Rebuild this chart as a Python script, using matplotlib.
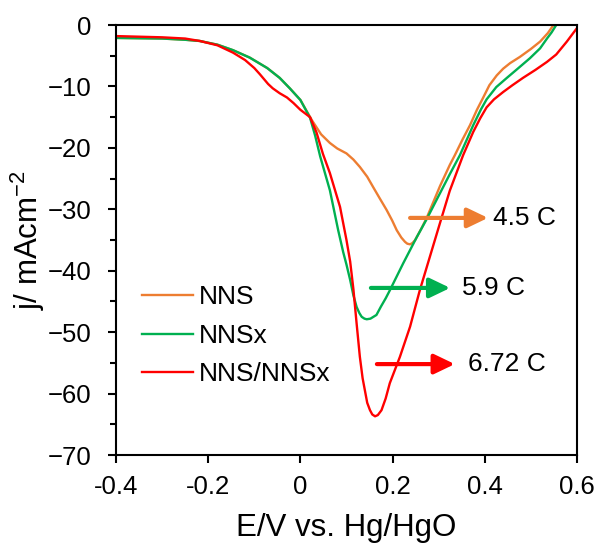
import matplotlib
matplotlib.use('Agg')
import matplotlib.pyplot as plt
from matplotlib.ticker import MultipleLocator

plt.rcParams['font.family'] = ['Liberation Sans', 'DejaVu Sans']
plt.rcParams['mathtext.default'] = 'regular'

# Datos
nns_x = [-0.4, -0.3, -0.25, -0.218, -0.18, -0.146, -0.11, -0.072, -0.045, -0.023, 0.0,
         0.025, 0.045, 0.064, 0.08, 0.1, 0.115, 0.129, 0.145, 0.158, 0.172, 0.187,
         0.199, 0.209, 0.219, 0.227, 0.232, 0.238, 0.243, 0.249, 0.262, 0.274, 0.303,
         0.324, 0.335, 0.352, 0.368, 0.383, 0.396, 0.41, 0.426, 0.44, 0.455, 0.476,
         0.5, 0.52, 0.537, 0.549]
nns_y = [-2.1, -2.2, -2.4, -2.6, -3.2, -4.1, -5.3, -7.0, -8.6, -10.3, -12.2,
         -15.5, -17.8, -19.2, -20.1, -20.9, -21.9, -23.1, -24.7, -26.4, -28.2, -30.1,
         -31.8, -33.4, -34.6, -35.3, -35.6, -35.7, -35.5, -35.0, -33.2, -31.4, -26.2,
         -22.8, -21.2, -18.6, -16.3, -13.8, -11.9, -9.8, -8.2, -7.1, -6.2, -5.2,
         -3.9, -2.7, -1.3, 0.0]

nnsx_x = [-0.4, -0.3, -0.25, -0.218, -0.18, -0.146, -0.11, -0.072, -0.045, -0.023, 0.0,
          0.021, 0.032, 0.043, 0.064, 0.082, 0.093, 0.1, 0.108, 0.115, 0.122, 0.128,
          0.133, 0.139, 0.144, 0.152, 0.165, 0.175, 0.185, 0.194, 0.223, 0.252, 0.274,
          0.3, 0.324, 0.346, 0.375, 0.392, 0.404, 0.425, 0.448, 0.47, 0.498, 0.52,
          0.535, 0.545, 0.555]
nnsx_y = [-2.1, -2.2, -2.4, -2.6, -3.2, -4.1, -5.3, -7.0, -8.6, -10.3, -12.2,
          -15.1, -18.0, -21.4, -26.9, -33.4, -37.0, -39.0, -41.5, -44.0, -45.9, -46.9,
          -47.5, -47.8, -47.9, -47.8, -47.2, -45.8, -44.5, -43.2, -38.8, -34.6, -31.6,
          -27.8, -24.3, -21.2, -16.3, -13.7, -12.1, -10.1, -8.6, -7.2, -5.4, -3.8,
          -2.2, -1.2, 0.0]

mix_x = [-0.4, -0.3, -0.25, -0.218, -0.18, -0.146, -0.12, -0.1, -0.088, -0.07, -0.06,
         -0.045, -0.029, -0.015, 0.0, 0.021, 0.035, 0.049, 0.064, 0.086, 0.1, 0.108,
         0.115, 0.122, 0.129, 0.135, 0.14, 0.145, 0.151, 0.156, 0.162, 0.168, 0.176,
         0.185, 0.194, 0.216, 0.238, 0.259, 0.281, 0.303, 0.324, 0.353, 0.375, 0.39,
         0.404, 0.42, 0.44, 0.46, 0.483, 0.51, 0.535, 0.555, 0.578, 0.6]
mix_y = [-1.8, -2.0, -2.2, -2.6, -3.3, -4.5, -5.7, -7.0, -8.0, -9.6, -10.3,
         -11.1, -11.8, -12.7, -13.8, -15.0, -17.5, -21.0, -24.1, -29.6, -35.0, -38.5,
         -43.0, -48.6, -54.0, -57.5, -59.5, -61.5, -62.7, -63.4, -63.7, -63.5, -62.7,
         -60.8, -58.3, -54.0, -49.1, -43.2, -37.7, -32.2, -27.0, -21.2, -17.4, -15.2,
         -13.4, -12.1, -10.9, -9.8, -8.6, -7.3, -6.0, -4.8, -2.7, -0.5]

labels = ['NNS', 'NNSx', 'NNS/NNSx']
colors = ['#ED7D31', '#00B050', '#FF0000']

# Flechas de carga
charge_labels = ['4.5 C', '5.9 C', '6.72 C']
arrow_start = [0.238, 0.153, 0.166]
arrow_end = [0.407, 0.325, 0.335]
arrow_y = [-31.4, -42.8, -55.2]
text_x = [0.418, 0.351, 0.364]


def main():
    fig = plt.figure(figsize=(6.01, 5.5), dpi=100)
    ax = fig.add_axes([0.193, 0.1727, 0.767, 0.7818])

    for xs, ys, lab, c in zip([nns_x, nnsx_x, mix_x], [nns_y, nnsx_y, mix_y], labels, colors):
        ax.plot(xs, ys, color=c, lw=1.7, label=lab, solid_joinstyle='round')

    for x0, x1, y, t, tx, c in zip(arrow_start, arrow_end, arrow_y, charge_labels, text_x, colors):
        ax.annotate('', xy=(x1, y), xytext=(x0, y),
                    arrowprops=dict(arrowstyle='-|>,head_length=1.25,head_width=0.6',
                                    color=c, lw=3, mutation_scale=10, shrinkA=0, shrinkB=0))
        ax.text(tx, y, t, fontsize=19, va='center', ha='left')

    ax.set_xlim(-0.4, 0.6)
    ax.set_ylim(-70, 0)
    ax.xaxis.set_major_locator(MultipleLocator(0.2))
    ax.yaxis.set_major_locator(MultipleLocator(10))
    ax.yaxis.set_minor_locator(MultipleLocator(5))
    ax.set_xticklabels([f'{v:g}' for v in ax.get_xticks()])

    ax.tick_params(axis='both', which='major', direction='out', length=5.5, width=1.5,
                   labelsize=18.5)
    ax.tick_params(axis='y', which='major', pad=12)
    ax.tick_params(axis='x', which='major', pad=9)
    ax.tick_params(axis='y', which='minor', direction='out', length=4.5, width=1.5)
    for s in ax.spines.values():
        s.set_linewidth(1.5)

    ax.set_xlabel('E/V vs. Hg/HgO', fontsize=22.5, labelpad=10)
    ax.set_ylabel('j/ mAcm$^{-2}$', fontsize=22.5, labelpad=1)

    ax.legend(loc='center left', bbox_to_anchor=(0.056, 0.277), frameon=False,
              fontsize=19, handlelength=1.95, handletextpad=0.2, labelspacing=0.55,
              borderpad=0, borderaxespad=0)

    fig.savefig('out.png', dpi=100)


if __name__ == '__main__':
    main()
